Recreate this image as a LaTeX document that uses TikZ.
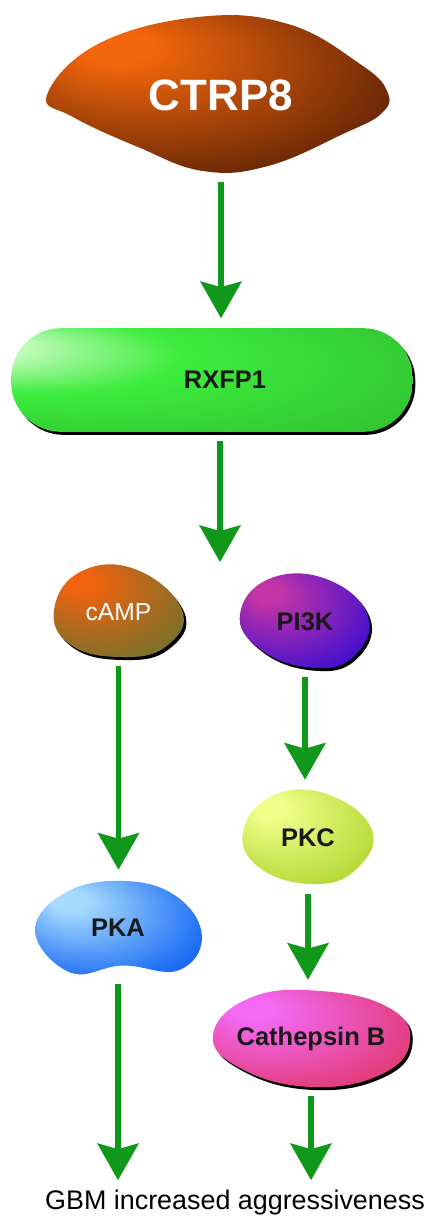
\documentclass[tikz,border=0pt]{standalone}
\usepackage{fontspec}
\setmainfont{Liberation Sans}
\usepackage{xcolor}
\usepackage{tikz}
\usetikzlibrary{arrows.meta,backgrounds,shadows}
\definecolor{SignalGreen}{HTML}{10981A}
\definecolor{CtrpHi}{HTML}{F2660C}
\definecolor{CtrpLo}{HTML}{6A2806}
\definecolor{RxfpHi}{HTML}{E4FFDC}
\definecolor{RxfpLo}{HTML}{3CEC3C}
\definecolor{CampHi}{HTML}{F0620E}
\definecolor{CampLo}{HTML}{80702A}
\definecolor{PikHi}{HTML}{C334A6}
\definecolor{PikLo}{HTML}{4A12CC}
\definecolor{PkcHi}{HTML}{F0FF8A}
\definecolor{PkcLo}{HTML}{B8DA3A}
\definecolor{PkaHi}{HTML}{A6DAFF}
\definecolor{PkaLo}{HTML}{1E6EF4}
\definecolor{CathHi}{HTML}{F46AF4}
\definecolor{CathLo}{HTML}{E23E7E}
\colorlet{blobA}{white}
\colorlet{blobB}{gray}
\pgfdeclareradialshading[blobA,blobB]{glossy}{\pgfpoint{-16bp}{16bp}}{%
  color(0bp)=(blobA); color(5bp)=(blobA); color(32bp)=(blobB); color(44bp)=(blobB!85!black);
  color(50bp)=(blobB!50!black)}
\pgfdeclareradialshading[blobA,blobB]{glosswide}{\pgfpoint{-34bp}{18bp}}{%
  color(0bp)=(blobA); color(3bp)=(blobA); color(18bp)=(blobB); color(50bp)=(blobB!75!black)}
\tikzset{
  molfill/.style 2 args={/utils/exec={\colorlet{blobA}{#1}\colorlet{blobB}{#2}},shading=glossy},
  mol/.style={inner sep=0pt,font=\fontsize{14.5}{17}\selectfont\bfseries,text=black!90},
  darkshadow/.style={drop shadow={shadow xshift=0.05cm,shadow yshift=-0.06cm,fill=black,opacity=1}},
  sig/.style={draw=SignalGreen,line width=3.4pt,
    -{Stealth[length=0.74cm,width=0.84cm,inset=0.12cm,line width=0pt]},
    shorten <=0.18cm,shorten >=0.20cm},
}

\begin{document}
\begin{tikzpicture}
  \useasboundingbox (0,0) rectangle (8.58,-24.42);
  % molecules
  \node[mol,minimum width=6.86cm,minimum height=3.10cm,text=white,
    font=\fontsize{25}{30}\selectfont\bfseries] (ctrp) at (4.42,-1.90) {CTRP8};
  \node[mol,minimum width=8.02cm,minimum height=2.06cm] (rxfp) at (4.50,-7.60) {RXFP1};
  \coordinate (split) at (4.40,-11.44);
  \node[mol,minimum width=2.58cm,minimum height=1.78cm,text=white,
    font=\fontsize{14}{17}\selectfont] (camp) at (2.37,-12.25) {cAMP};
  \node[mol,minimum width=2.60cm,minimum height=1.86cm] (pik) at (6.10,-12.43) {PI3K};
  \node[mol,minimum width=2.60cm,minimum height=1.90cm] (pkc) at (6.16,-16.75) {PKC};
  \node[mol,minimum width=3.32cm,minimum height=1.90cm] (pka) at (2.36,-18.55) {PKA};
  \node[mol,minimum width=3.96cm,minimum height=1.94cm] (cath) at (6.22,-20.77) {Cathepsin B};
  \node[inner sep=0pt,font=\fontsize{15.3}{18}\selectfont] (gbm) at (4.70,-24.06)
    {GBM increased aggressiveness};

  % blob bodies
  \begin{scope}[on background layer]
    \shade[molfill={CtrpHi}{CtrpLo},shift={(ctrp.center)},xshift=-0.06cm] plot[smooth cycle,tension=0.7] coordinates {
      (-3.42,0) (-2.40,1.02) (-0.40,1.56) (1.40,1.42) (2.84,0.62) (3.38,0.08)
      (3.28,-0.36) (2.50,-0.78) (1.00,-1.42) (-0.30,-1.52) (-1.60,-1.04) (-2.90,-0.44)};
    \shade[molfill={RxfpHi}{RxfpLo},shading=glosswide,darkshadow,rounded corners=1.0cm]
      ([xshift=-0.26cm]rxfp.south west) rectangle ([xshift=-0.26cm]rxfp.north east);
    \shade[molfill={CampHi}{CampLo},darkshadow,shift={(camp.center)}] plot[smooth cycle,tension=0.75] coordinates {
      (-1.29,0.05) (-0.75,0.82) (0.35,0.86) (1.27,0.05) (0.95,-0.68) (0.05,-0.89) (-0.95,-0.65)};
    \shade[molfill={PikHi}{PikLo},darkshadow,shift={(pik.center)}] plot[smooth cycle,tension=0.75] coordinates {
      (-1.30,0.15) (-0.70,0.86) (0.45,0.84) (1.26,0.10) (0.95,-0.72) (0.10,-0.92) (-0.90,-0.55)};
    \shade[molfill={PkcHi}{PkcLo},shift={(pkc.center)}] plot[smooth cycle,tension=0.75] coordinates {
      (-1.30,0.10) (-0.70,0.84) (0.40,0.86) (1.28,0.15) (0.95,-0.65) (0.10,-0.93) (-0.95,-0.62)};
    \shade[molfill={PkaHi}{PkaLo},shift={(pka.center)}] plot[smooth cycle,tension=0.7] coordinates {
      (-1.66,-0.08) (-1.05,0.70) (0.15,0.93) (1.20,0.60) (1.68,-0.20) (1.20,-0.86)
      (0.10,-0.76) (-0.95,-0.90)};
    \shade[molfill={CathHi}{CathLo},darkshadow,shift={(cath.center)}] plot[smooth cycle,tension=0.75] coordinates {
      (-1.96,0.08) (-1.20,0.82) (0.20,0.95) (1.55,0.62) (1.98,-0.05) (1.40,-0.72)
      (0.00,-0.97) (-1.40,-0.60)};
  \end{scope}

  % signalling arrows
  \draw[sig] (ctrp.south) -- (ctrp.south |- rxfp.north);
  \draw[sig] (rxfp.south -| split) -- (split);
  \draw[sig] (camp.south) -- (camp.south |- pka.north);
  \draw[sig] (pik.south) -- (pik.south |- pkc.north);
  \draw[sig] (pkc.south) -- (pkc.south |- cath.north);
  \draw[sig] (pka.south) -- (pka.south |- gbm.north);
  \draw[sig] (cath.south) -- (cath.south |- gbm.north);
\end{tikzpicture}
\end{document}
